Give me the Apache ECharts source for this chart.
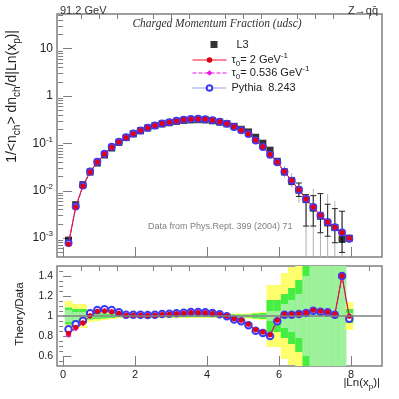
<!DOCTYPE html>
<html>
<head>
<meta charset="utf-8">
<script src="https://cdn.jsdelivr.net/npm/echarts@6/dist/echarts.min.js"></script>
<style>
html, body { margin: 0; padding: 0; background: #fff; }
#chart { width: 399px; height: 399px; }
</style>
</head>
<body>
<div id="chart"></div>
<script>
// bin centres in |Ln(x_p)|
const lnxp = [0.15, 0.35, 0.55, 0.75, 0.95, 1.15, 1.35, 1.55, 1.75, 1.95,
  2.15, 2.35, 2.55, 2.75, 2.95, 3.15, 3.35, 3.55, 3.75, 3.95,
  4.15, 4.35, 4.55, 4.75, 4.95, 5.15, 5.35, 5.55, 5.75, 5.95,
  6.15, 6.35, 6.55, 6.75, 6.95, 7.15, 7.35, 7.55, 7.75, 7.95]
const binWidth = 0.2

// L3 data, 1/<n_ch> dn_ch/d|Ln(x_p)|
const l3 = [0.00091, 0.0051, 0.0135, 0.0248, 0.0385, 0.057, 0.080, 0.105, 0.133, 0.159,
  0.185, 0.212, 0.237, 0.258, 0.274, 0.292, 0.306, 0.313, 0.317, 0.313,
  0.301, 0.281, 0.26, 0.23, 0.199, 0.175, 0.135, 0.101, 0.072, 0.042,
  0.025, 0.0161, 0.0103, 0.0065, 0.0043, 0.0029, 0.0021, 0.00167, 0.00094, 0.0010]

// L3 error bars (only the tail ones are visible)
const errX = [5.95, 6.15, 6.35, 6.55, 6.75, 6.95, 7.15, 7.35, 7.55, 7.75, 7.95]
const statLo = [0.039, 0.022, 0.0135, 0.0076, 0.0018, 0.0018, 0.0013, 0.0011, 0.0008, 0.0005, 0.0009]
const statHi = [0.045, 0.028, 0.019, 0.0146, 0.0083, 0.0079, 0.0087, 0.0052, 0.0042, 0.0037, 0.0011]
const totLo = [0.037, 0.0188, 0.0117, 0.0056, 0.0003, 0.0003, 0.0003, 0.0003, 0.0003, 0.0003, 0.0008]
const totHi = [0.047, 0.033, 0.0235, 0.0147, 0.0083, 0.011, 0.0087, 0.0085, 0.006, 0.0037, 0.0012]

// model predictions
const tau2Top = [0.00075, 0.00452, 0.0126, 0.0249, 0.0403, 0.0599, 0.0834, 0.1078, 0.1339, 0.160,
  0.187, 0.2135, 0.239, 0.262, 0.279, 0.299, 0.315, 0.325, 0.329, 0.323,
  0.309, 0.286, 0.26, 0.224, 0.190, 0.160, 0.1165, 0.0848, 0.0585, 0.0402,
  0.0254, 0.0164, 0.0105, 0.00671, 0.00455, 0.00304, 0.00218, 0.0017, 0.00132, 0.000997]
const tau536Top = [0.00074, 0.00446, 0.0125, 0.0248, 0.0402, 0.0599, 0.0834, 0.1078, 0.1339, 0.1598,
  0.1865, 0.213, 0.239, 0.262, 0.2795, 0.299, 0.315, 0.3245, 0.3287, 0.3233,
  0.309, 0.2858, 0.26, 0.2238, 0.1904, 0.1605, 0.1165, 0.0848, 0.0585, 0.0402,
  0.0254, 0.0164, 0.01054, 0.00674, 0.00456, 0.00305, 0.00219, 0.0017, 0.00132, 0.001]
const pythiaTop = [0.000789, 0.00468, 0.01287, 0.02557, 0.0408, 0.0608, 0.0848, 0.1089, 0.1347, 0.161,
  0.187, 0.214, 0.240, 0.263, 0.280, 0.300, 0.316, 0.326, 0.330, 0.325,
  0.310, 0.286, 0.259, 0.222, 0.189, 0.159, 0.115, 0.0838, 0.0576, 0.0398,
  0.0253, 0.0163, 0.0105, 0.0067, 0.00453, 0.00302, 0.00218, 0.00169, 0.00132, 0.000973]

// theory / data
const tau2Ratio = [0.827, 0.887, 0.933, 1.003, 1.047, 1.05, 1.043, 1.027, 1.007, 1.007,
  1.008, 1.005, 1.008, 1.015, 1.018, 1.022, 1.028, 1.035, 1.035, 1.032,
  1.025, 1.015, 1.0, 0.973, 0.957, 0.917, 0.863, 0.84, 0.813, 0.957,
  1.017, 1.017, 1.023, 1.033, 1.057, 1.047, 1.04, 1.017, 1.40, 0.997]
const tau536Ratio = [0.81, 0.875, 0.925, 1.0, 1.045, 1.05, 1.043, 1.027, 1.007, 1.005,
  1.008, 1.005, 1.008, 1.015, 1.02, 1.023, 1.03, 1.037, 1.037, 1.033,
  1.027, 1.017, 1.0, 0.973, 0.957, 0.917, 0.863, 0.84, 0.813, 0.957,
  1.017, 1.017, 1.023, 1.037, 1.06, 1.05, 1.043, 1.02, 1.40, 1.0]
const pythiaRatio = [0.867, 0.917, 0.953, 1.027, 1.06, 1.067, 1.06, 1.037, 1.013, 1.013,
  1.013, 1.01, 1.013, 1.02, 1.023, 1.027, 1.033, 1.04, 1.04, 1.037,
  1.03, 1.017, 0.997, 0.965, 0.948, 0.907, 0.853, 0.83, 0.80, 0.947,
  1.013, 1.013, 1.02, 1.03, 1.053, 1.043, 1.037, 1.013, 1.40, 0.973]

// uncertainty bands around 1 (half widths)
const bandYellow = [0.15, 0.12, 0.12, 0.06, 0.05, 0.04, 0.03, 0.02, 0.02, 0.02,
  0.02, 0.02, 0.02, 0.02, 0.02, 0.02, 0.02, 0.02, 0.02, 0.02,
  0.02, 0.02, 0.025, 0.025, 0.025, 0.025, 0.035, 0.04, 0.31, 0.31,
  0.43, 0.49, 0.6, 0.8, 1.0, 1.0, 1.0, 1.0, 1.0, 0.14]
const bandGreen = [0.085, 0.07, 0.07, 0.035, 0.03, 0.025, 0.02, 0.012, 0.012, 0.012,
  0.012, 0.012, 0.012, 0.012, 0.012, 0.012, 0.012, 0.012, 0.012, 0.012,
  0.012, 0.012, 0.015, 0.015, 0.015, 0.015, 0.025, 0.03, 0.16, 0.16,
  0.22, 0.28, 0.36, 0.6, 0.8, 0.8, 0.8, 0.8, 0.8, 0.07]
const bandLight = [0.06, 0.04, 0.04, 0.02, 0.015, 0.012, 0.01, 0.006, 0.006, 0.006,
  0.006, 0.006, 0.006, 0.006, 0.006, 0.006, 0.006, 0.006, 0.006, 0.006,
  0.006, 0.006, 0.008, 0.008, 0.008, 0.008, 0.01, 0.012, 0.05, 0.05,
  0.12, 0.16, 0.22, 0.4, 0.6, 0.6, 0.6, 0.6, 0.6, 0.03]

// axis ticks
const xMajor = [0, 2, 4, 6, 8]
const xMinor = [0.5, 1, 1.5, 2.5, 3, 3.5, 4.5, 5, 5.5, 6.5, 7, 7.5, 8.5]
const yMajor = [0.001, 0.01, 0.1, 1, 10]
const yMinor = [0.0005, 0.0006, 0.0007, 0.0008, 0.0009,
  0.002, 0.003, 0.004, 0.005, 0.006, 0.007, 0.008, 0.009,
  0.02, 0.03, 0.04, 0.05, 0.06, 0.07, 0.08, 0.09,
  0.2, 0.3, 0.4, 0.5, 0.6, 0.7, 0.8, 0.9,
  2, 3, 4, 5, 6, 7, 8, 9, 20, 30, 40, 50]
const rMajor = [0.6, 0.8, 1, 1.2, 1.4]
const rMinor = [0.55, 0.65, 0.7, 0.75, 0.85, 0.9, 0.95, 1.05, 1.1, 1.15, 1.25, 1.3, 1.35, 1.45]

const legendNames = {
  L3: 'L3',
  tau2: 'τ{sub|0}= 2 GeV{sup|-1}',
  tau536: 'τ{sub|0}= 0.536 GeV{sup|-1}',
  pythia: 'Pythia  8.243'
}

const chart = echarts.init(document.getElementById('chart'))

const frameColor = '#7f7f7f'
const font = 'Liberation Sans'
const red = '#e8102a'
const magenta = '#f010e0'
const blue = '#3a3af0'

const richText = {
  sub: { fontSize: 8, verticalAlign: 'bottom', lineHeight: 16 },
  sup: { fontSize: 8, verticalAlign: 'top', lineHeight: 16 }
}

function pairs (ys) {
  return lnxp.map((x, i) => [x, ys[i]])
}

function xAx (grid, ticks, len, labels) {
  return {
    gridIndex: grid,
    type: 'value',
    min: -0.17,
    max: 8.86,
    axisLine: { show: false },
    splitLine: { show: false },
    axisTick: { inside: true, length: len, customValues: ticks, lineStyle: { color: frameColor } },
    axisLabel: labels
      ? { show: true, customValues: ticks, color: '#222', fontSize: 11, fontFamily: font, margin: 3 }
      : { show: false }
  }
}

function logLabel (v) {
  if (v >= 1) return String(v)
  return '10{sup|' + Math.round(Math.log10(v)) + '}'
}

function lineLegend (name, top, color, dash) {
  return {
    data: [name], left: 192, top: top, itemWidth: 34, itemHeight: 7, padding: 0,
    formatter: n => legendNames[n],
    lineStyle: { width: 1, color: color, type: dash },
    textStyle: { fontSize: 11, fontFamily: font, color: '#222', lineHeight: 16, rich: richText },
    selectedMode: false
  }
}

// error bars for L3
function errRender (caps, color) {
  return function (params, api) {
    const x = api.value(0)
    const lo = api.coord([x, api.value(1)])
    const hi = api.coord([x, api.value(2)])
    const kids = [{
      type: 'line',
      shape: { x1: lo[0], y1: lo[1], x2: hi[0], y2: hi[1] },
      style: { stroke: color, lineWidth: 1 }
    }]
    if (caps) {
      [lo, hi].forEach(p => kids.push({
        type: 'line',
        shape: { x1: p[0] - 3, y1: p[1], x2: p[0] + 3, y2: p[1] },
        style: { stroke: color, lineWidth: 1 }
      }))
    }
    return { type: 'group', children: kids }
  }
}

// coloured bands in the ratio panel
function bandRender (params, api) {
  const x = api.value(0)
  const cols = ['#ffff6e', '#44ee44', '#9ef29e']
  const kids = []
  for (let k = 0; k < 3; k++) {
    const hw = api.value(k + 1)
    const p0 = api.coord([x - binWidth / 2, 1 + hw])
    const p1 = api.coord([x + binWidth / 2, 1 - hw])
    kids.push({
      type: 'rect',
      shape: { x: p0[0], y: p0[1], width: p1[0] - p0[0] + 0.5, height: p1[1] - p0[1] },
      style: { fill: cols[k] }
    })
  }
  return { type: 'group', children: kids }
}

const option = {
  animation: false,
  backgroundColor: '#fff',
  grid: [
    { left: 57, right: 17, top: 14, height: 243, show: true, borderColor: frameColor, borderWidth: 1.5, backgroundColor: 'transparent' },
    { left: 57, right: 17, top: 266, height: 100, show: true, borderColor: frameColor, borderWidth: 1.5, backgroundColor: 'transparent' }
  ],
  legend: [
    {
      data: ['L3'], left: 210.5, top: 39, icon: 'rect', itemWidth: 7, itemHeight: 7, padding: 0,
      textStyle: { fontSize: 11, fontFamily: font, color: '#222', padding: [0, 0, 0, 14] },
      selectedMode: false
    },
    lineLegend('tau2', 52, red, 'solid'),
    lineLegend('tau536', 65, magenta, 'dashed'),
    lineLegend('pythia', 80, blue, 'dotted')
  ],
  xAxis: [
    xAx(0, xMajor, 10, false),
    xAx(0, xMinor, 5, false),
    xAx(1, xMajor, 10, true),
    xAx(1, xMinor, 5, false)
  ],
  yAxis: [
    {
      gridIndex: 0, type: 'log', min: 0.0004, max: 54,
      axisLine: { show: false }, splitLine: { show: false },
      axisTick: { inside: true, length: 9, customValues: yMajor, lineStyle: { color: frameColor } },
      axisLabel: {
        customValues: yMajor, formatter: logLabel, color: '#222', fontSize: 12, fontFamily: font, margin: 4,
        rich: { sup: { fontSize: 8, verticalAlign: 'top', lineHeight: 16 } }
      }
    },
    {
      gridIndex: 0, type: 'log', min: 0.0004, max: 54,
      axisLine: { show: false }, splitLine: { show: false },
      axisTick: { inside: true, length: 5, customValues: yMinor, lineStyle: { color: frameColor } },
      axisLabel: { show: false }
    },
    {
      gridIndex: 1, type: 'value', min: 0.5, max: 1.5,
      axisLine: { show: false }, splitLine: { show: false },
      axisTick: { inside: true, length: 8, customValues: rMajor, lineStyle: { color: frameColor } },
      axisLabel: { customValues: rMajor, color: '#222', fontSize: 10.5, fontFamily: font, margin: 4 }
    },
    {
      gridIndex: 1, type: 'value', min: 0.5, max: 1.5,
      axisLine: { show: false }, splitLine: { show: false },
      axisTick: { inside: true, length: 4, customValues: rMinor, lineStyle: { color: frameColor } },
      axisLabel: { show: false }
    }
  ],
  series: [
    {
      type: 'custom', xAxisIndex: 0, yAxisIndex: 0, clip: true, silent: true,
      renderItem: errRender(false, '#b0b0b0'),
      data: errX.map((x, i) => [x, totLo[i], totHi[i]])
    },
    {
      type: 'custom', xAxisIndex: 0, yAxisIndex: 0, clip: true, silent: true,
      renderItem: errRender(true, '#222'),
      data: errX.map((x, i) => [x, statLo[i], statHi[i]])
    },
    {
      name: 'L3', type: 'scatter', xAxisIndex: 0, yAxisIndex: 0,
      symbol: 'rect', symbolSize: 7, itemStyle: { color: '#000' },
      data: pairs(l3)
    },
    {
      name: 'pythia', type: 'line', xAxisIndex: 0, yAxisIndex: 0,
      symbol: 'emptyCircle', symbolSize: 6, showAllSymbol: true,
      lineStyle: { color: blue, width: 1, type: 'dotted' },
      itemStyle: { color: blue, borderColor: blue, borderWidth: 1 },
      data: pairs(pythiaTop)
    },
    {
      name: 'tau536', type: 'line', xAxisIndex: 0, yAxisIndex: 0,
      symbol: 'diamond', symbolSize: 6, showAllSymbol: true,
      lineStyle: { color: magenta, width: 1, type: 'dashed' },
      itemStyle: { color: magenta },
      data: pairs(tau536Top)
    },
    {
      name: 'tau2', type: 'line', xAxisIndex: 0, yAxisIndex: 0,
      symbol: 'circle', symbolSize: 5, showAllSymbol: true,
      lineStyle: { color: red, width: 1 },
      itemStyle: { color: '#e00010' },
      data: pairs(tau2Top)
    },
    {
      type: 'custom', xAxisIndex: 2, yAxisIndex: 2, clip: true, silent: true,
      renderItem: bandRender,
      data: lnxp.map((x, i) => [x, bandYellow[i], bandGreen[i], bandLight[i]]),
      markLine: {
        silent: true, symbol: 'none', label: { show: false },
        lineStyle: { color: '#808080', width: 1.5, type: 'solid' },
        data: [{ yAxis: 1 }]
      }
    },
    {
      name: 'pythia', type: 'line', xAxisIndex: 2, yAxisIndex: 2,
      symbol: 'emptyCircle', symbolSize: 6.5, showAllSymbol: true,
      lineStyle: { color: blue, width: 1, type: 'dotted' },
      itemStyle: { color: blue, borderColor: blue, borderWidth: 1 },
      data: pairs(pythiaRatio)
    },
    {
      name: 'tau536', type: 'line', xAxisIndex: 2, yAxisIndex: 2,
      symbol: 'diamond', symbolSize: 6, showAllSymbol: true,
      lineStyle: { color: magenta, width: 1, type: 'dashed' },
      itemStyle: { color: magenta },
      data: pairs(tau536Ratio)
    },
    {
      name: 'tau2', type: 'line', xAxisIndex: 2, yAxisIndex: 2,
      symbol: 'circle', symbolSize: 5, showAllSymbol: true,
      lineStyle: { color: red, width: 1 },
      itemStyle: { color: '#e00010' },
      data: pairs(tau2Ratio)
    }
  ],
  graphic: [
    { type: 'text', x: 60, y: 11, style: { text: '91.2 GeV', fill: '#333', font: '11px Liberation Sans', align: 'left', verticalAlign: 'middle' } },
    { type: 'text', x: 378, y: 11, style: { text: 'Z→qq\u0304', fill: '#333', font: '11px Liberation Sans', align: 'right', verticalAlign: 'middle' } },
    { type: 'text', x: 217, y: 24, style: { text: 'Charged Momentum Fraction (udsc)', fill: '#333', font: 'italic 11.5px Liberation Serif', align: 'center', verticalAlign: 'middle' } },
    { type: 'text', x: 148, y: 227, style: { text: 'Data from Phys.Rept. 399 (2004) 71', fill: '#808080', font: '9px Liberation Sans', align: 'left', verticalAlign: 'middle' } },
    {
      type: 'text', x: 12, y: 30, rotation: Math.PI / 2,
      style: {
        text: '1/<n{sub|ch}> dn{sub|ch}/d|Ln(x{sub|p})|', fill: '#222', font: '14px Liberation Sans',
        align: 'right', verticalAlign: 'middle', lineHeight: 20,
        rich: { sub: { fontSize: 10, verticalAlign: 'bottom', lineHeight: 20 } }
      }
    },
    { type: 'text', x: 20, y: 314, rotation: Math.PI / 2, style: { text: 'Theory/Data', fill: '#222', font: '11.5px Liberation Sans', align: 'center', verticalAlign: 'middle' } },
    {
      type: 'text', x: 380, y: 383,
      style: {
        text: '|Ln(x{sub|p})|', fill: '#222', font: '11.5px Liberation Sans', align: 'right', verticalAlign: 'middle', lineHeight: 16,
        rich: { sub: { fontSize: 8, verticalAlign: 'bottom', lineHeight: 16 } }
      }
    }
  ]
}

chart.setOption(option)
</script>
</body>
</html>
